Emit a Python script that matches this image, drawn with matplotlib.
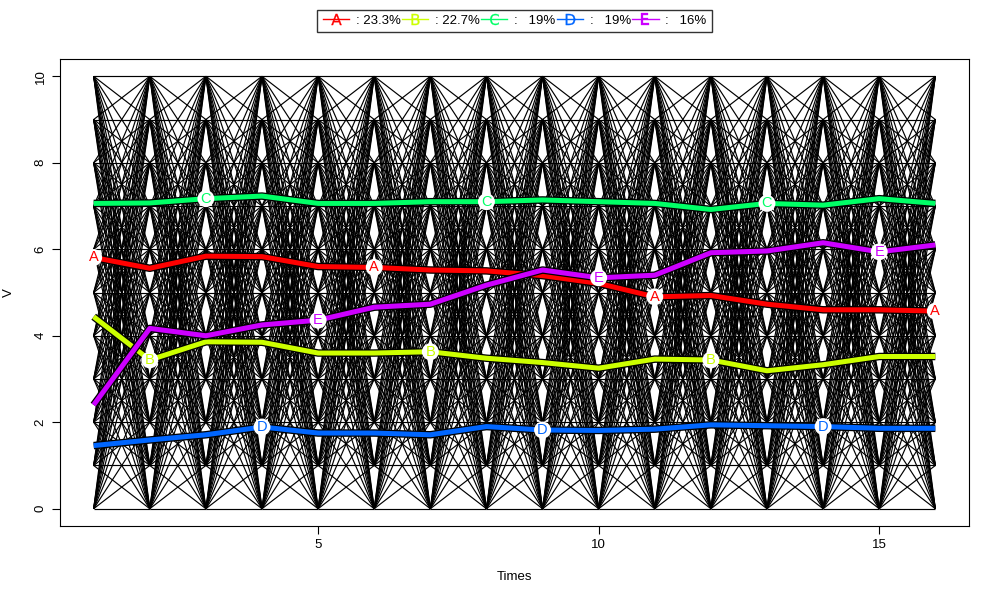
import matplotlib
matplotlib.use("Agg")
import matplotlib.pyplot as plt
import matplotlib.patheffects as pe
from matplotlib.collections import LineCollection
from matplotlib.lines import Line2D

plt.rcParams["font.family"] = ["Liberation Sans", "DejaVu Sans"]

times = list(range(1, 17))
levels = list(range(0, 11))

series_names = ["A", "B", "C", "D", "E"]
series_share = ["23.3%", "22.7%", "19%", "19%", "16%"]
series_colors = ["#FF0000", "#CCFF00", "#00FF66", "#0066FF", "#CC00FF"]

values_a = [5.81, 5.56, 5.84, 5.83, 5.60, 5.58, 5.52, 5.50, 5.39, 5.21, 4.90, 4.93, 4.73, 4.60, 4.60, 4.57]
values_b = [4.44, 3.44, 3.86, 3.85, 3.60, 3.60, 3.63, 3.48, 3.38, 3.25, 3.46, 3.44, 3.19, 3.33, 3.52, 3.52]
values_c = [7.06, 7.07, 7.17, 7.23, 7.06, 7.06, 7.10, 7.10, 7.14, 7.10, 7.06, 6.92, 7.06, 7.02, 7.17, 7.06]
values_d = [1.46, 1.59, 1.71, 1.89, 1.75, 1.75, 1.71, 1.90, 1.82, 1.81, 1.84, 1.94, 1.92, 1.90, 1.86, 1.86]
values_e = [2.40, 4.17, 4.00, 4.25, 4.36, 4.66, 4.73, 5.17, 5.52, 5.34, 5.40, 5.92, 5.96, 6.15, 5.94, 6.10]
all_values = [values_a, values_b, values_c, values_d, values_e]

fig = plt.figure(figsize=(10, 6), dpi=100)
ax = fig.add_axes([0.06, 0.1233, 0.909, 0.7784])

# background web of transitions between consecutive times
segs = []
for t0, t1 in zip(times[:-1], times[1:]):
    for a in levels:
        for b in levels:
            segs.append([(t0, a), (t1, b)])
ax.add_collection(LineCollection(segs, colors="black", linewidths=0.85))

for k, (name, vals, col) in enumerate(zip(series_names, all_values, series_colors)):
    ax.plot(times, vals, color=col, lw=3.6, solid_capstyle="butt", solid_joinstyle="round", zorder=3,
            path_effects=[pe.Stroke(linewidth=5.4, foreground="black"), pe.Normal()])
    for t in times[k::5]:
        ax.text(t, vals[t - 1], name, color=col, fontsize=10.5, ha="center", va="center", zorder=4,
                bbox=dict(boxstyle="circle,pad=0.1", fc="white", ec="none"))

ax.set_xlim(0.4, 16.6)
ax.set_ylim(-0.4, 10.4)
ax.set_xticks([5, 10, 15])
ax.set_yticks([0, 2, 4, 6, 8, 10])
ax.tick_params(direction="out", length=6, labelsize=9.5)
plt.setp(ax.get_yticklabels(), rotation=90, va="center")
ax.set_xlabel("Times", fontsize=9.5, labelpad=14)
ax.set_ylabel("V", fontsize=9.5, labelpad=14)

handles = [Line2D([0], [0], color=c, lw=1, marker="$\\mathrm{%s}$" % n, markersize=8,
                  markeredgewidth=0.2, markeredgecolor=c, markerfacecolor=c)
           for n, c in zip(series_names, series_colors)]
labels = [": " + s if len(s) > 3 else ":   " + s for s in series_share]
fig.legend(handles, labels, loc="upper center", bbox_to_anchor=(0.5145, 0.995), ncol=5,
           fontsize=9.5, frameon=True, fancybox=False, edgecolor="black",
           handlelength=2.0, handletextpad=0.5, columnspacing=0.1, borderpad=0.4)

fig.savefig("out.png", dpi=100)
